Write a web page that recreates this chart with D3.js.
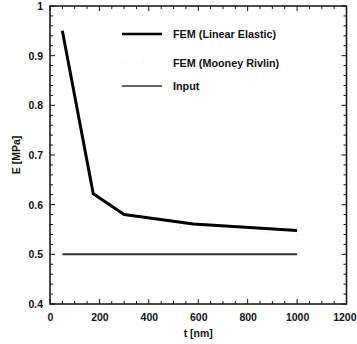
<!DOCTYPE html>
<html><head><meta charset="utf-8">
<script src="https://cdn.jsdelivr.net/npm/d3@7"></script>
<style>body{margin:0;background:#fff}svg{display:block}text{font-family:"Liberation Sans",Arial,sans-serif;font-weight:bold;fill:#111}</style>
</head><body><svg id="c" width="357" height="344"></svg>
<script>
const tLinear = [50, 175, 300, 580, 1000];
const eLinear = [0.95, 0.622, 0.58, 0.561, 0.548];
const tMooney = [50, 175, 300, 580, 1000];
const eMooney = [0.94, 0.605, 0.57, 0.552, 0.54];
const tInput = [50, 1000];
const eInput = [0.5, 0.5];
const xTicks = [0, 200, 400, 600, 800, 1000, 1200];
const yTicks = [0.4, 0.5, 0.6, 0.7, 0.8, 0.9, 1];
const yTickLabels = ["0.4","0.5","0.6","0.7","0.8","0.9","1"];
const legendLabels = ["FEM (Linear Elastic)", "FEM (Mooney Rivlin)", "Input"];

const svg = d3.select("#c");
const L=50, R=346.5, T=6, B=304;
const FS = 10.5;
const x = d3.scaleLinear().domain([0,1200]).range([L,R]);
const y = d3.scaleLinear().domain([0.4,1]).range([B,T]);

const xMinor = d3.range(0,1201,50);
const yMinor = d3.range(0,31).map(i=>+(0.4+i*0.02).toFixed(2));

svg.append("rect").attr("x",L).attr("y",T).attr("width",R-L).attr("height",B-T)
  .attr("fill","none").attr("stroke","#111").attr("stroke-width",1.5);

const g = svg.append("g").attr("stroke","#111").attr("stroke-width",1);
xMinor.forEach(v=>{
  const len = (v%200===0)?5:3;
  g.append("line").attr("x1",x(v)).attr("x2",x(v)).attr("y1",B).attr("y2",B-len);
  g.append("line").attr("x1",x(v)).attr("x2",x(v)).attr("y1",T).attr("y2",T+len);
});
yMinor.forEach(v=>{
  const isMaj = Math.abs(v*10-Math.round(v*10))<1e-6;
  const len = isMaj?5:3;
  g.append("line").attr("y1",y(v)).attr("y2",y(v)).attr("x1",L).attr("x2",L+len);
  g.append("line").attr("y1",y(v)).attr("y2",y(v)).attr("x1",R).attr("x2",R-len);
});

const xAxis = svg.append("g").attr("transform",`translate(0,${B})`)
  .call(d3.axisBottom(x).tickValues(xTicks).tickSize(0).tickPadding(10).tickFormat(d3.format("d")));
xAxis.select(".domain").remove();
xAxis.selectAll("text").attr("font-size",FS).attr("font-family","Liberation Sans, Arial, sans-serif").attr("font-weight","bold").attr("fill","#111");
// keep the last label inside the window
xAxis.selectAll(".tick").filter(d=>d===1200).select("text").attr("text-anchor","end").attr("dx", 356 - x(1200));

const yAxis = svg.append("g").attr("transform",`translate(${L},0)`)
  .call(d3.axisLeft(y).tickValues(yTicks).tickSize(0).tickPadding(7).tickFormat((d,i)=>yTickLabels[i]));
yAxis.select(".domain").remove();
yAxis.selectAll("text").attr("font-size",FS).attr("font-family","Liberation Sans, Arial, sans-serif").attr("font-weight","bold").attr("fill","#111");

svg.append("text").attr("x",(L+R)/2).attr("y",337).attr("text-anchor","middle").attr("font-size",FS).text("t [nm]");
svg.append("text").attr("transform",`translate(20,${(T+B)/2}) rotate(-90)`).attr("text-anchor","middle").attr("font-size",FS).text("E [MPa]");

const line = d3.line().x(d=>x(d[0])).y(d=>y(d[1]));
svg.append("path").datum(tMooney.map((t,i)=>[t,eMooney[i]])).attr("d",line)
  .attr("fill","none").attr("stroke","#ccc").attr("stroke-width",1).attr("stroke-dasharray","1,28");
svg.append("path").datum(tInput.map((t,i)=>[t,eInput[i]])).attr("d",line)
  .attr("fill","none").attr("stroke","#333").attr("stroke-width",2);
svg.append("path").datum(tLinear.map((t,i)=>[t,eLinear[i]])).attr("d",line)
  .attr("fill","none").attr("stroke","#000").attr("stroke-width",3).attr("stroke-linejoin","round");

const leg = svg.append("g");
const legY = [34, 63, 86];
leg.append("line").attr("x1",122).attr("x2",162).attr("y1",legY[0]).attr("y2",legY[0]).attr("stroke","#000").attr("stroke-width",2.5);
leg.append("line").attr("x1",122).attr("x2",162).attr("y1",legY[1]).attr("y2",legY[1]).attr("stroke","#e6e6e6").attr("stroke-width",1).attr("stroke-dasharray","1,20");
leg.append("line").attr("x1",122).attr("x2",162).attr("y1",legY[2]).attr("y2",legY[2]).attr("stroke","#333").attr("stroke-width",1.5);
legendLabels.forEach((s,i)=>{
  leg.append("text").attr("x",173).attr("y",legY[i]+4).attr("font-size",10.8).text(s);
});
</script></body></html>
